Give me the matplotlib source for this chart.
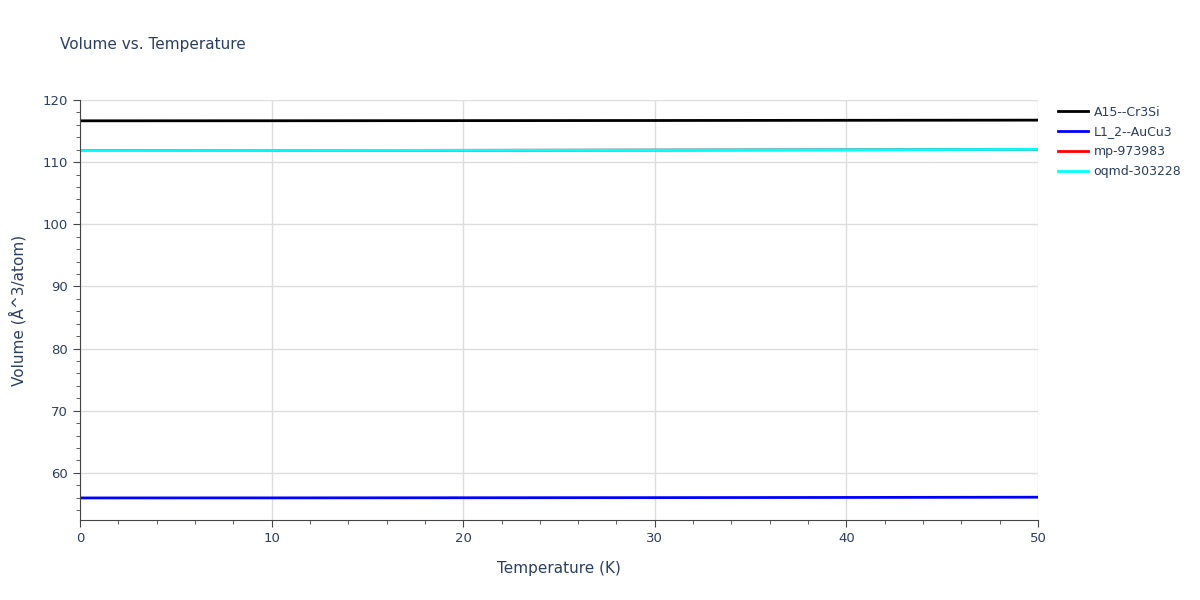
import matplotlib
matplotlib.use("Agg")
import matplotlib.pyplot as plt
from matplotlib.ticker import MultipleLocator

temps = [0, 10, 20, 30, 40, 50]
names = ["A15--Cr3Si", "L1_2--AuCu3", "mp-973983", "oqmd-303228"]
colors = ["black", "blue", "red", "cyan"]
a15 = [116.65, 116.66, 116.68, 116.70, 116.73, 116.76]
l12 = [55.95, 55.96, 55.98, 56.00, 56.03, 56.07]
mp = [111.85, 111.87, 111.90, 111.94, 111.99, 112.05]
oqmd = [111.85, 111.87, 111.90, 111.94, 111.99, 112.05]
series = [a15, l12, mp, oqmd]

fig = plt.figure(figsize=(12, 6), dpi=100)
ax = fig.add_axes([80/1200, 1-520/600, 958/1200, 420/600])
for n, c, s in zip(names, colors, series):
    ax.plot(temps, s, color=c, lw=2, label=n)
ax.set_xlim(0, 50)
ax.set_ylim(52.4, 120)
ax.set_yticks(range(60, 121, 10))
ax.set_xticks(range(0, 51, 10))
ax.xaxis.set_minor_locator(MultipleLocator(2))
ax.yaxis.set_minor_locator(MultipleLocator(2))
ax.grid(True, color="#dddddd", lw=1)
ax.set_axisbelow(True)
for s in ["top", "right"]:
    ax.spines[s].set_visible(False)
ax.spines["left"].set_color("#444444")
ax.spines["bottom"].set_color("#444444")
ax.tick_params(which="major", length=5, color="#444444", labelcolor="#2a3f5f", labelsize=9.5)
ax.tick_params(which="minor", length=3, color="#444444")
ax.set_xlabel("Temperature (K)", color="#2a3f5f", fontsize=11, labelpad=12)
ax.set_ylabel("Volume (Å^3/atom)", color="#2a3f5f", fontsize=11, labelpad=12)
fig.text(60/1200, 1-45/600, "Volume vs. Temperature", color="#2a3f5f", fontsize=11, va="center")
leg = fig.legend(loc="upper left", bbox_to_anchor=(1055/1200, 1-103/600), frameon=False,
                 fontsize=9, handlelength=2.4, labelspacing=0.55, handletextpad=0.5,
                 borderaxespad=0, borderpad=0.2)
for t in leg.get_texts():
    t.set_color("#2a3f5f")
fig.savefig("out.png")
